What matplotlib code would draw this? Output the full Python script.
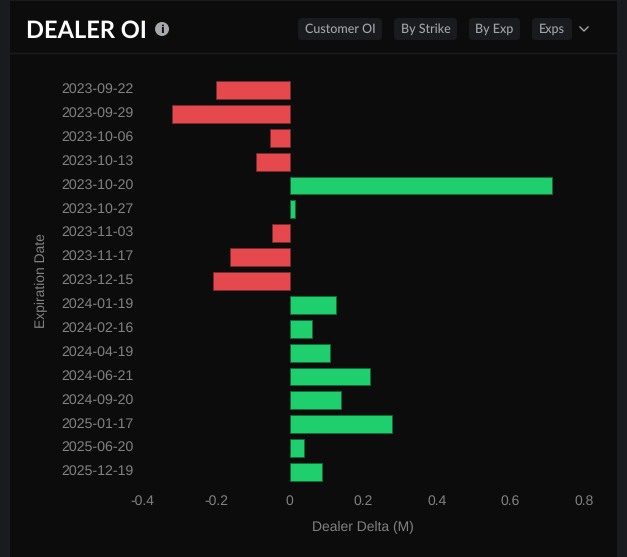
import matplotlib
matplotlib.use('Agg')
import matplotlib.pyplot as plt
from matplotlib.patches import FancyBboxPatch, Circle, Rectangle
from matplotlib.transforms import ScaledTranslation

W, H = 627, 557

expirations = ['2023-09-22', '2023-09-29', '2023-10-06', '2023-10-13', '2023-10-20', '2023-10-27',
               '2023-11-03', '2023-11-17', '2023-12-15', '2024-01-19', '2024-02-16', '2024-04-19',
               '2024-06-21', '2024-09-20', '2025-01-17', '2025-06-20', '2025-12-19']
dealer_delta = [-0.201, -0.32, -0.054, -0.092, 0.712, 0.013, -0.048, -0.163, -0.209,
                0.125, 0.06, 0.108, 0.217, 0.138, 0.277, 0.04, 0.087]
x_ticks = [-0.4, -0.2, 0, 0.2, 0.4, 0.6, 0.8]
x_tick_labels = ['-0.4', '-0.2', '0', '0.2', '0.4', '0.6', '0.8']
buttons = ['Customer OI', 'By Strike', 'By Exp', 'Exps']

RED, RED_EDGE = '#e5484d', '#7a2a2d'
GREEN, GREEN_EDGE = '#1fce6d', '#0f6a38'
GREY = '#828282'

plt.rcParams['font.family'] = ['Liberation Sans', 'DejaVu Sans']
plt.rcParams['text.kerning_factor'] = 6
plt.rcParams['text.hinting'] = 'no_hinting'

fig = plt.figure(figsize=(W / 100, H / 100), dpi=100, facecolor='#1a1b1e')

# pixel coordinate layer for the card and the header
bg = fig.add_axes([0, 0, 1, 1])
bg.set_xlim(0, W)
bg.set_ylim(H, 0)
bg.axis('off')
bg.add_patch(Rectangle((10, 1), 607, 556, fc='#0c0c0d', ec='none'))
bg.plot([10, 617], [53, 53], c='#1b1c1e', lw=1)

bg.text(26.5, 30.5, 'DEALER OI', color='white', fontsize=17, fontweight='bold', family='Lato',
        va='center', ha='left')
bg.add_patch(Circle((162, 29), 7, fc='#a6a9ae', ec='none'))
bg.text(162, 29.5, 'i', color='#0c0c0d', fontsize=8, fontweight='bold', family='DejaVu Sans',
        ha='center', va='center')

spans = [(298, 382), (394, 457), (469, 520), (532, 572)]
for label, (x0, x1) in zip(buttons, spans):
    bg.add_patch(FancyBboxPatch((x0 + 4, 22), x1 - x0 - 8, 14, boxstyle='round,pad=4,rounding_size=4',
                                fc='#1a1b1e', ec='none'))
    bg.text((x0 + x1) / 2, 29, label, color='#a3a5a9', fontsize=9, family='Lato', fontweight='medium',
            ha='center', va='center')
bg.plot([580, 584, 588], [27, 31, 27], c='#a3a5a9', lw=1)

# chart
ax = fig.add_axes([142.6 / W, 1 - 484 / H, (584.1 - 142.6) / W, (484 - 78) / H], facecolor='none')
rows = list(range(len(expirations)))
colors = [RED if v < 0 else GREEN for v in dealer_delta]
edges = [RED_EDGE if v < 0 else GREEN_EDGE for v in dealer_delta]
ax.barh(rows, dealer_delta, height=0.75, color=colors, edgecolor=edges, linewidth=0.7)
ax.set_xlim(-0.4, 0.8)
ax.set_ylim(len(expirations) - 0.5, -0.5)
for s in ax.spines.values():
    s.set_visible(False)
ax.set_xticks(x_ticks)
ax.set_xticklabels(x_tick_labels, fontsize=10, color=GREY)
ax.set_yticks(rows)
ax.set_yticklabels(expirations, fontsize=10.2, color=GREY)
ax.tick_params(length=0)
ax.tick_params(axis='x', pad=8)
ax.tick_params(axis='y', pad=6.5)

# labels sit a little above the bar centres in the original
shift = ScaledTranslation(0, 2 / 100, fig.dpi_scale_trans)
for lab in ax.get_yticklabels():
    lab.set_transform(lab.get_transform() + shift)

bg.text(363, 527, 'Dealer Delta (M)', color=GREY, fontsize=10, ha='center', va='center')
bg.text(41, 281, 'Expiration Date', color=GREY, fontsize=10, rotation=90, ha='center', va='center')

fig.savefig('out.png', dpi=100, facecolor=fig.get_facecolor())
